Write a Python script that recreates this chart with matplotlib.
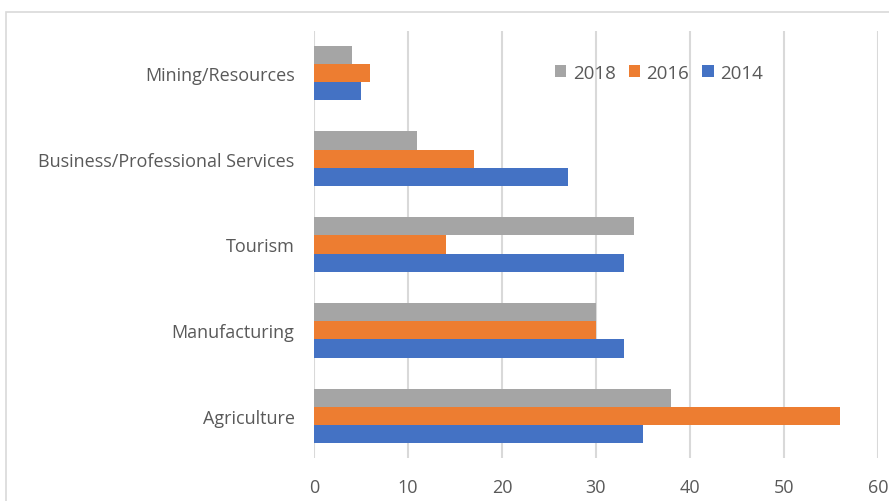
import matplotlib.pyplot as plt
from matplotlib.patches import Rectangle
import numpy as np

sectors = ["Agriculture", "Manufacturing", "Tourism",
           "Business/Professional Services", "Mining/Resources"]
vals_2014 = [35, 33, 33, 27, 5]
vals_2016 = [56, 30, 14, 17, 6]
vals_2018 = [38, 30, 34, 11, 4]
x_ticks = [0, 10, 20, 30, 40, 50, 60]

c2014, c2016, c2018 = "#4472C4", "#ED7D31", "#A5A5A5"
text_col = "#595959"
grid_col = "#D9D9D9"

plt.rcParams['font.family'] = ['Open Sans', 'DejaVu Sans']

fig = plt.figure(figsize=(8.89, 5.02), dpi=100)
W, H = 889, 502
ax = fig.add_axes([314 / W, 1 - 459 / H, (878 - 314) / W, (459 - 32) / H])

y = np.arange(len(sectors))
h = 0.213
ax.barh(y - h, vals_2014, height=h, color=c2014, label="2014", zorder=3)
ax.barh(y, vals_2016, height=h, color=c2016, label="2016", zorder=3)
ax.barh(y + h, vals_2018, height=h, color=c2018, label="2018", zorder=3)

ax.set_xlim(0, 60)
ax.set_ylim(-0.49, 4.49)
ax.set_xticks(x_ticks)
ax.set_xticklabels([str(t) for t in x_ticks])
ax.set_yticks(y)
ax.set_yticklabels(sectors)
ax.tick_params(axis='both', length=0, labelsize=13, colors=text_col)
ax.tick_params(axis='x', pad=14.5)
ax.tick_params(axis='y', pad=14)
ax.grid(axis='x', color=grid_col, linewidth=1.5, zorder=0)
for s in ax.spines.values():
    s.set_visible(False)

handles, labels = ax.get_legend_handles_labels()
ax.legend(handles[::-1], labels[::-1], ncol=3, frameon=False,
          loc='center', bbox_to_anchor=((659 - 314) / (878 - 314), (459 - 74) / (459 - 32)),
          handlelength=0.6, handleheight=0.6, handletextpad=0.35,
          columnspacing=0.7, fontsize=13.5, labelcolor=text_col)

# outer chart frame
fig.patches.append(Rectangle((6 / W, -0.1), 1.2, 1.1 - 13 / H,
                             transform=fig.transFigure, fill=False,
                             edgecolor="#D9D9D9", linewidth=1.2))

fig.savefig("out.png", dpi=100)
